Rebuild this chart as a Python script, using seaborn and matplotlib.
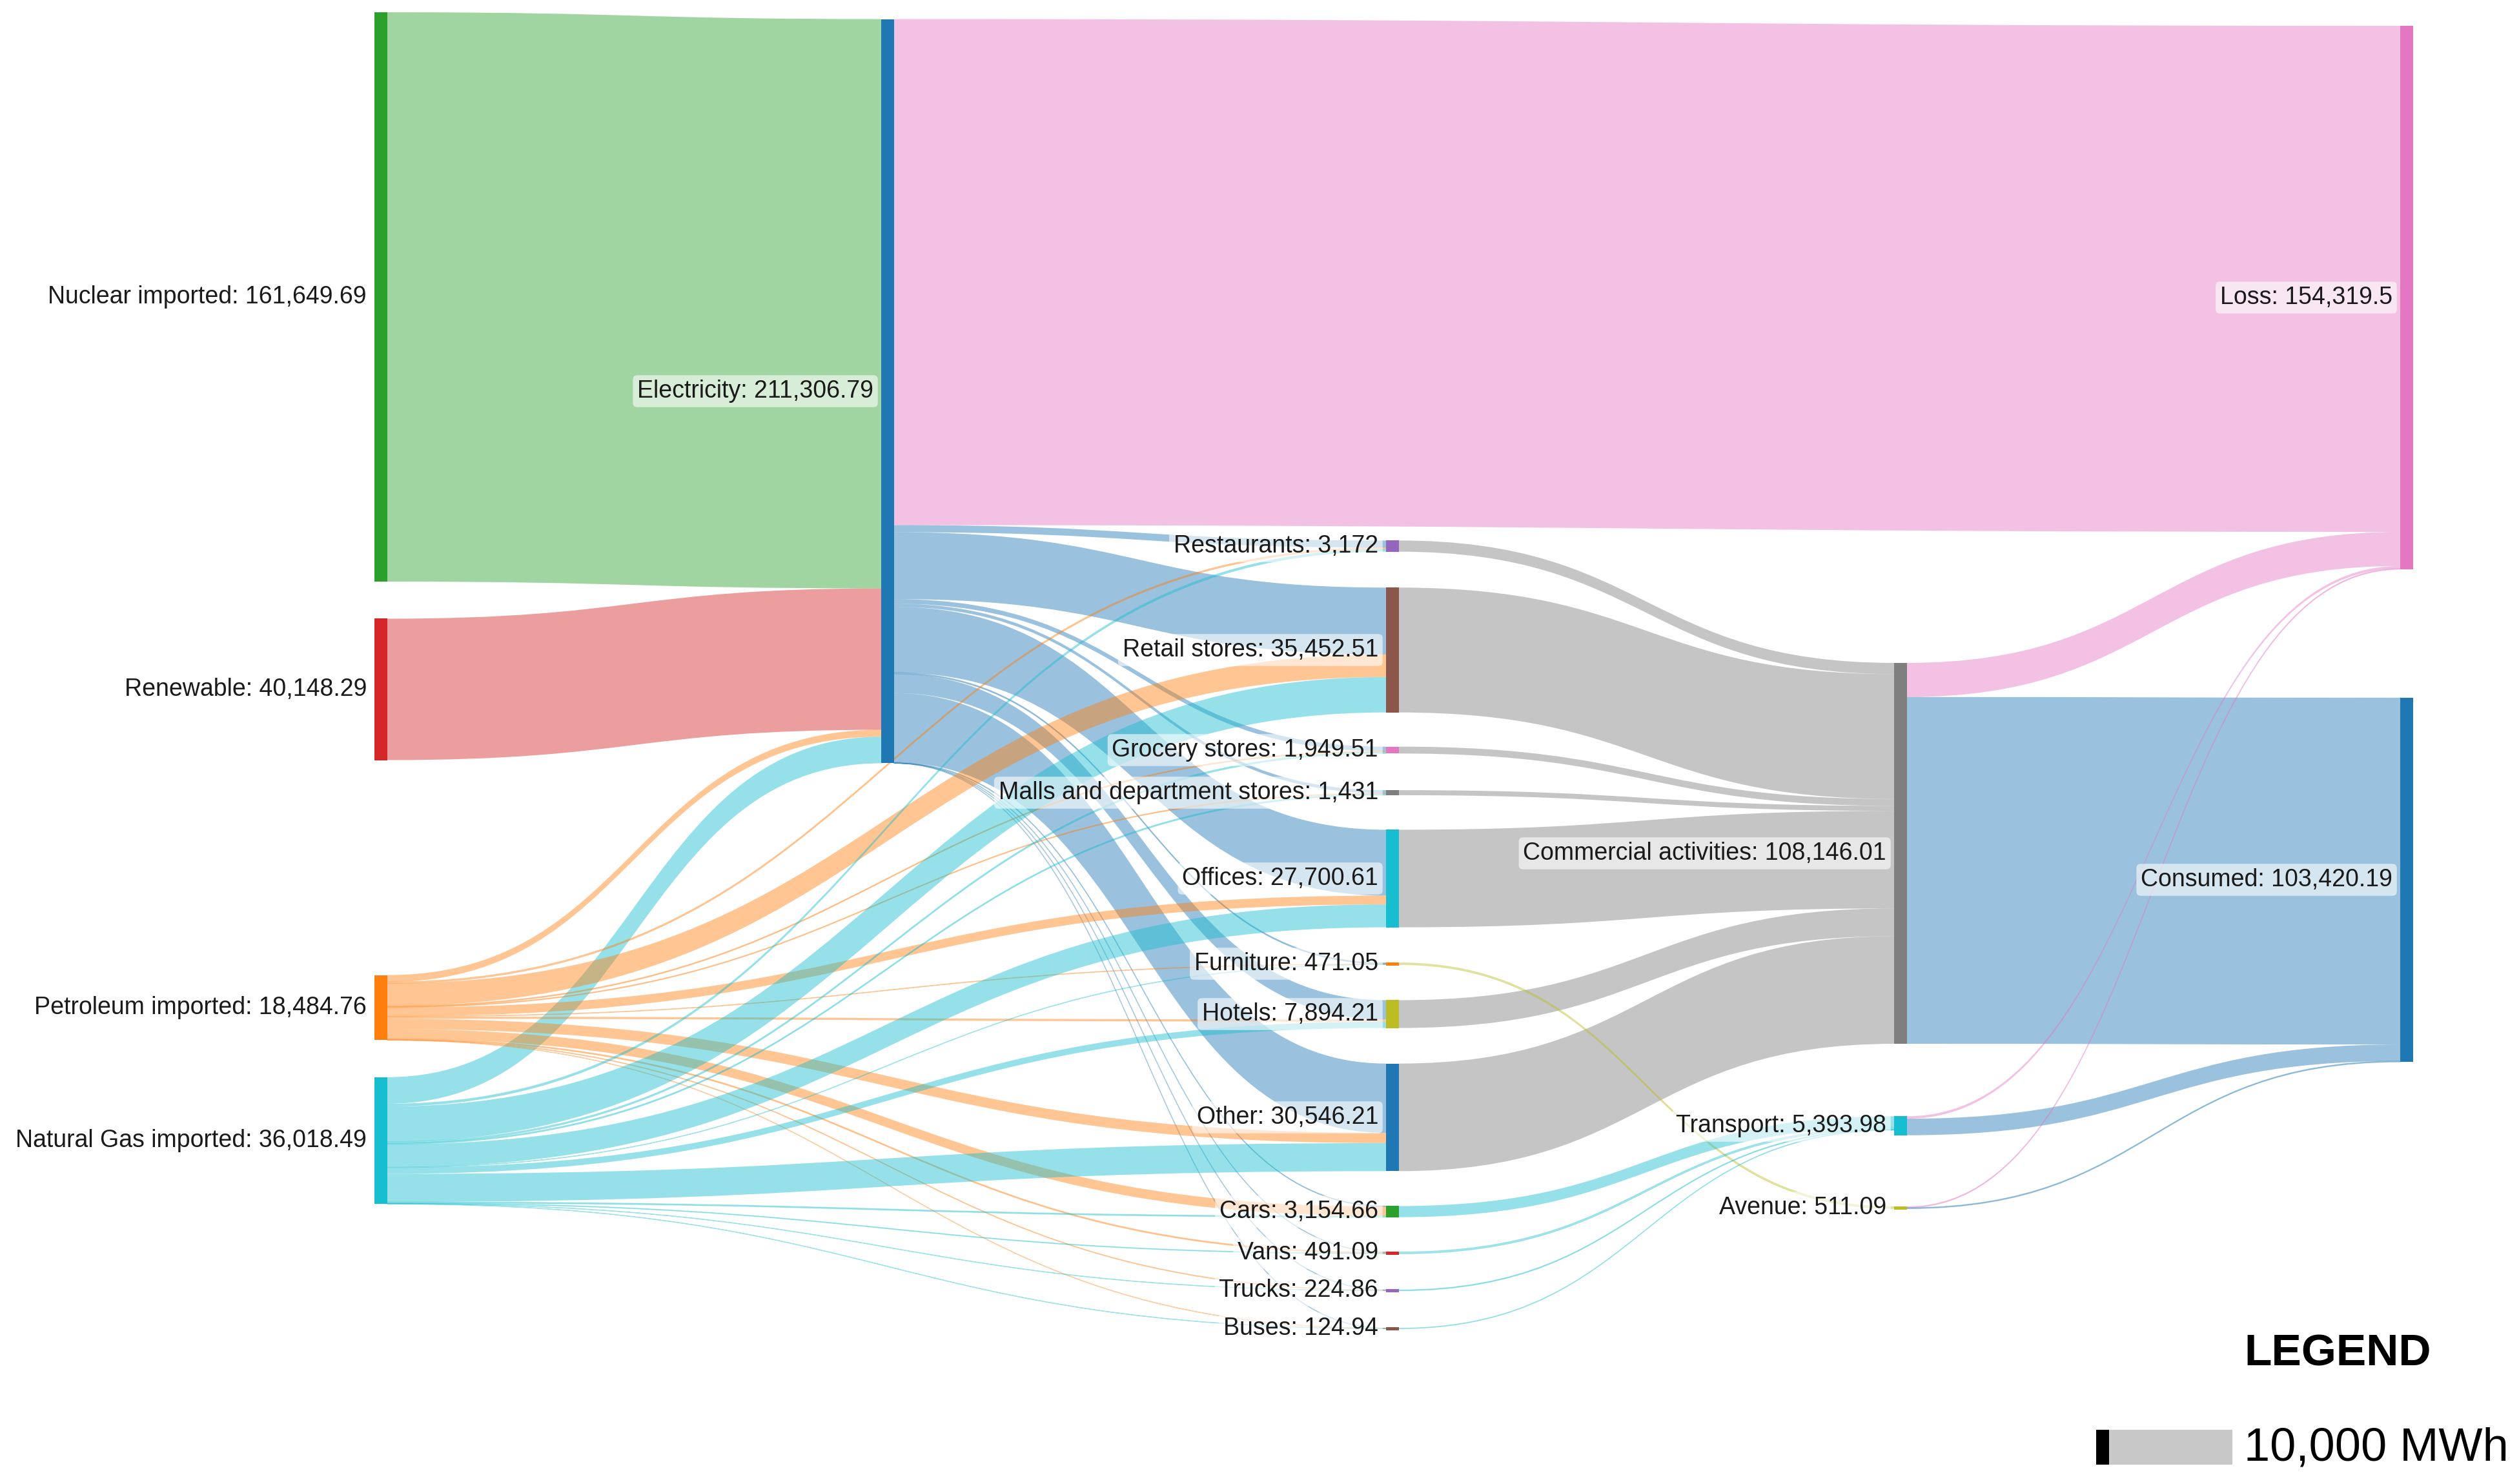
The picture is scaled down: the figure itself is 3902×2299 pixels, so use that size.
import numpy as np
import pandas as pd
import seaborn as sns
import matplotlib.pyplot as plt
from matplotlib.path import Path
from matplotlib.patches import PathPatch, Rectangle

sns.set_theme(style="white")
plt.rcParams['font.family'] = ['Liberation Sans', 'DejaVu Sans']

# Nodes: names, label values (MWh) and column
node_names = ["Nuclear imported", "Renewable", "Petroleum imported", "Natural Gas imported",
              "Electricity",
              "Restaurants", "Retail stores", "Grocery stores", "Malls and department stores",
              "Offices", "Furniture", "Hotels", "Other", "Cars", "Vans", "Trucks", "Buses",
              "Commercial activities", "Transport", "Avenue",
              "Loss", "Consumed"]
node_values = [161649.69, 40148.29, 18484.76, 36018.49,
               211306.79,
               3172, 35452.51, 1949.51, 1431,
               27700.61, 471.05, 7894.21, 30546.21, 3154.66, 491.09, 224.86, 124.94,
               108146.01, 5393.98, 511.09,
               154319.5, 103420.19]
node_column = [0, 0, 0, 0,
               1,
               2, 2, 2, 2, 2, 2, 2, 2, 2, 2, 2, 2,
               3, 3, 3,
               4, 4]

# Links (MWh)
link_source = (["Nuclear imported", "Renewable", "Petroleum imported", "Natural Gas imported"]
               + ["Electricity"] * 13
               + ["Petroleum imported"] * 12
               + ["Natural Gas imported"] * 12
               + ["Restaurants", "Retail stores", "Grocery stores", "Malls and department stores",
                  "Offices", "Hotels", "Other", "Furniture", "Cars", "Vans", "Trucks", "Buses",
                  "Commercial activities", "Commercial activities", "Transport", "Transport",
                  "Avenue", "Avenue"])
sub_targets = ["Restaurants", "Retail stores", "Grocery stores", "Malls and department stores",
               "Offices", "Furniture", "Hotels", "Other", "Cars", "Vans", "Trucks", "Buses"]
link_target = (["Electricity"] * 4
               + ["Loss"] + sub_targets
               + sub_targets
               + sub_targets
               + ["Commercial activities"] * 7
               + ["Avenue", "Transport", "Transport", "Transport", "Transport",
                  "Loss", "Consumed", "Loss", "Consumed", "Loss", "Consumed"])
link_value = ([161649.69, 40148.29, 1964.76, 7544.05]
              # electricity
              + [143688.61, 2000, 19000, 1300, 900, 18700, 300, 5500, 19688.18, 150, 40, 20, 20]
              # petroleum
              + [400, 6400, 250, 200, 2500, 100, 600, 2900, 2700, 300, 130, 40]
              # natural gas
              + [772, 10052.51, 399.51, 331, 6500.61, 71.05, 1794.21, 7958.03, 304.66, 151.09, 74.86, 64.94]
              # to commercial / avenue / transport
              + [3172, 35452.51, 1949.51, 1431, 27700.61, 7894.21, 30546.21,
                 471.05, 3154.66, 491.09, 224.86, 124.94]
              # to loss / consumed
              + [9680.89, 98465.12, 700, 4693.98, 250, 261.09])

# Layout (pixels, y from top) and styles
W, H = 3902, 2299
px_per_mwh = 0.005456
col_x = [580, 1365, 2147, 2934, 3718]
node_w = 20
node_center_y = [460, 1068, 1561, 1767,
                 606,
                 846, 1007, 1162, 1228, 1361, 1493, 1571, 1731, 1877, 1941, 1999, 2058,
                 1322, 1744, 1871,
                 461, 1363]
palette = sns.color_palette("tab10")
node_palette_idx = [2, 3, 1, 9,
                    0,
                    4, 5, 6, 7, 9, 1, 8, 0, 2, 3, 4, 5,
                    7, 9, 8,
                    6, 0]

nodes = pd.DataFrame({"name": node_names, "value": node_values, "col": node_column,
                      "cy": node_center_y,
                      "color": [palette[i] for i in node_palette_idx]}).set_index("name")
links = pd.DataFrame({"source": link_source, "target": link_target, "value": link_value})

in_sum = links.groupby("target")["value"].sum()
out_sum = links.groupby("source")["value"].sum()
nodes["size"] = [max(in_sum.get(n, 0), out_sum.get(n, 0)) for n in nodes.index]
nodes["h"] = nodes["size"] * px_per_mwh
nodes["top"] = nodes["cy"] - nodes["h"] / 2
nodes["x"] = [col_x[c] for c in nodes["col"]]

# stacking offsets of links at each node (plotly style ordering)
links["w"] = links["value"] * px_per_mwh
links["ys"] = 0.0
links["yt"] = 0.0
for n in nodes.index:
    out_idx = links.index[links["source"] == n]
    order = sorted(out_idx, key=lambda i: nodes.loc[links.at[i, "target"], "cy"])
    y = nodes.at[n, "top"]
    for i in order:
        links.at[i, "ys"] = y
        y += links.at[i, "w"]
    in_idx = links.index[links["target"] == n]
    order = sorted(in_idx, key=lambda i: nodes.loc[links.at[i, "source"], "cy"])
    y = nodes.at[n, "top"]
    for i in order:
        links.at[i, "yt"] = y
        y += links.at[i, "w"]

fig = plt.figure(figsize=(W / 100, H / 100), dpi=100)
ax = fig.add_axes([0, 0, 1, 1])
ax.set_xlim(0, W)
ax.set_ylim(H, 0)
ax.axis("off")

# links
for _, r in links.iterrows():
    s, t = nodes.loc[r["source"]], nodes.loc[r["target"]]
    x0 = s["x"] + node_w
    x1 = t["x"]
    xm = (x0 + x1) / 2
    y0, y1, w = r["ys"], r["yt"], r["w"]
    col = t["color"] if t["col"] >= 3 else s["color"]
    verts = [(x0, y0), (xm, y0), (xm, y1), (x1, y1),
             (x1, y1 + w), (xm, y1 + w), (xm, y0 + w), (x0, y0 + w), (x0, y0)]
    codes = [Path.MOVETO, Path.CURVE4, Path.CURVE4, Path.CURVE4,
             Path.LINETO, Path.CURVE4, Path.CURVE4, Path.CURVE4, Path.CLOSEPOLY]
    thin = w < 3
    ax.add_patch(PathPatch(Path(verts, codes), facecolor=col, edgecolor=col,
                           lw=0.9 if thin else 0, alpha=0.35 if thin else 0.45, zorder=1))


def fmt(v):
    return f"{v:,.2f}".rstrip("0").rstrip(".")


# nodes and labels
for n, r in nodes.iterrows():
    h = max(r["h"], 5)
    ax.add_patch(Rectangle((r["x"], r["cy"] - h / 2), node_w, h,
                           facecolor=r["color"], edgecolor="none", zorder=2))
    ax.text(r["x"] - 12, r["cy"], f"{n}: {fmt(r['value'])}", ha="right", va="center",
            fontsize=27, color="#1a1a1a", zorder=3,
            bbox=dict(boxstyle="round,pad=0.18", fc="white", ec="none", alpha=0.6))

# legend
leg_h = 10000 * px_per_mwh
ax.add_patch(Rectangle((3247, 2242 - leg_h / 2), node_w, leg_h, facecolor="black",
                       edgecolor="none", zorder=2))
ax.add_patch(Rectangle((3247 + node_w, 2242 - leg_h / 2), 191, leg_h, facecolor="#c8c8c8",
                       edgecolor="none", zorder=1))
ax.text(3476, 2097, "LEGEND", ha="left", va="center", fontsize=50, fontweight="bold",
        color="black")
ax.text(3476, 2244, "10,000 MWh", ha="left", va="center", fontsize=52, color="black")

fig.savefig("out.png", dpi=100, facecolor="white")
